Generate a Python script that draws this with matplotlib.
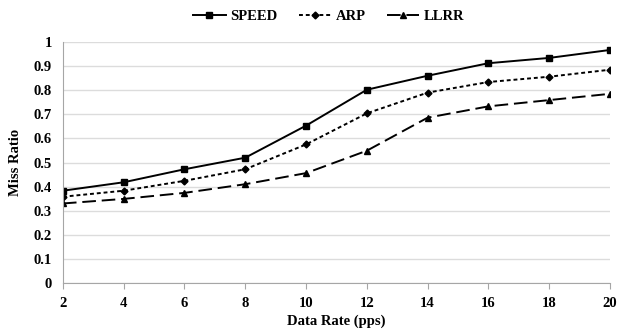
import matplotlib.pyplot as plt
import numpy as np

rates = [2, 4, 6, 8, 10, 12, 14, 16, 18, 20]
speed = [0.383, 0.418, 0.472, 0.520, 0.653, 0.802, 0.860, 0.912, 0.934, 0.967]
arp = [0.358, 0.383, 0.424, 0.472, 0.575, 0.704, 0.790, 0.834, 0.856, 0.885]
llrr = [0.330, 0.349, 0.374, 0.410, 0.456, 0.549, 0.686, 0.733, 0.759, 0.785]
yticks = [0, 0.1, 0.2, 0.3, 0.4, 0.5, 0.6, 0.7, 0.8, 0.9, 1]
ytick_labels = ["0", "0.1", "0.2", "0.3", "0.4", "0.5", "0.6", "0.7", "0.8", "0.9", "1"]

plt.rcParams['font.family'] = ['Liberation Serif', 'DejaVu Serif']
plt.rcParams['font.weight'] = 'bold'

fig = plt.figure(figsize=(6.17, 3.3), dpi=100)
ax = fig.add_axes([0.102, 0.1424, 0.8866, 0.7303])

ax.plot(rates, speed, color='black', lw=1.4, ls='-', marker='s', ms=5, label='SPEED')
ax.plot(rates, arp, color='black', lw=1.4, ls=(0, (2, 1.5)), marker='D', ms=3.5, label='ARP')
ax.plot(rates, llrr, color='black', lw=1.4, ls=(0, (7, 3)), marker='^', ms=5, label='LLRR')

ax.set_xlim(rates[0], rates[-1])
ax.set_ylim(0, 1)
ax.set_xticks(rates)
ax.set_yticks(yticks)
ax.set_yticklabels(ytick_labels)
ax.grid(axis='y', color='#dcdcdc', lw=1)
ax.set_axisbelow(True)
for s in ['top', 'right']:
    ax.spines[s].set_visible(False)
for s in ['left', 'bottom']:
    ax.spines[s].set_color('#a6a6a6')
ax.tick_params(axis='y', length=0, labelsize=10.5, pad=8)
ax.tick_params(axis='x', length=4, color='#a6a6a6', labelsize=10.5, pad=6)
for lab in ax.get_xticklabels() + ax.get_yticklabels():
    lab.set_fontweight('bold')

ax.set_xlabel('Data Rate (pps)', fontsize=10.5, fontweight='bold', labelpad=3)
ax.set_ylabel('Miss Ratio', fontsize=10.5, fontweight='bold', labelpad=8)

fig.legend(loc='upper center', bbox_to_anchor=(0.533, 1.01), ncol=3, frameon=False,
           prop={'weight': 'bold', 'size': 10.5}, handlelength=2.2, columnspacing=1.5,
           handletextpad=0.3)

fig.savefig('out.png', dpi=100)
